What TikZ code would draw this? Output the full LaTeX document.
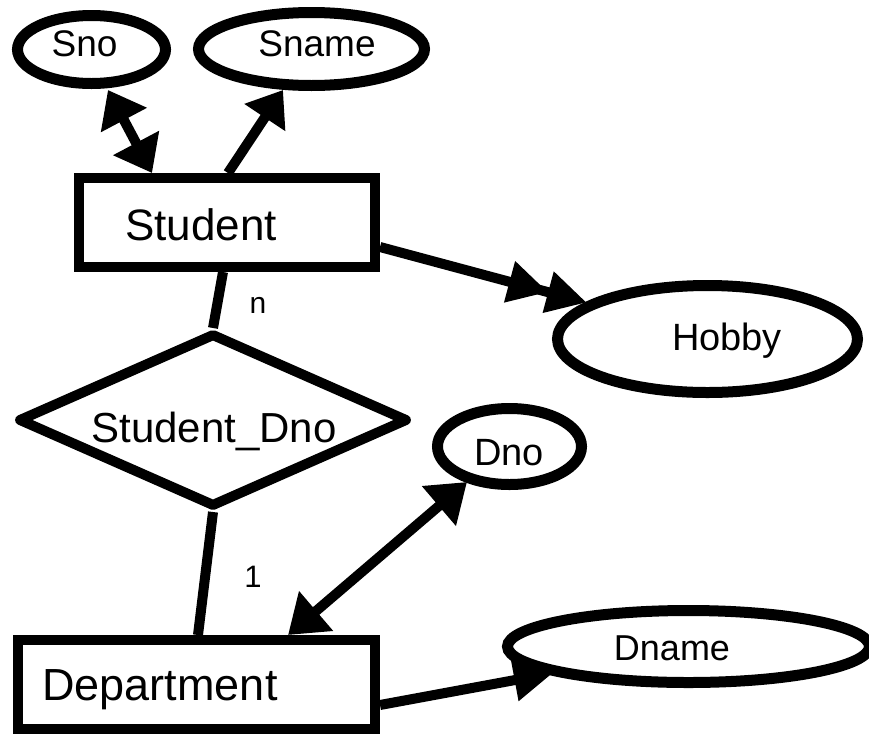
\documentclass[tikz,border=0pt]{standalone}
\usepackage{fontspec}
\setmainfont{Liberation Sans}
\usetikzlibrary{arrows.meta,shapes.geometric,calc}

\begin{document}
\begin{tikzpicture}[x=1pt,y=-1pt,
  thick line/.style={line width=10pt},
  entity/.style={draw,thick line,rectangle,inner sep=0pt,line join=miter},
  attr/.style={draw,line width=11pt,ellipse,inner sep=0pt},
  rel/.style={draw,thick line,diamond,inner sep=0pt,line join=round},
  txt/.style={inner sep=0pt,anchor=base},
  link/.style={thick line},
  both/.style 2 args={arrows={{Triangle[length=#1,width=#2]}-{Triangle[length=#1,width=#2]}}},
  tohead/.style 2 args={arrows={-{Triangle[length=#1,width=#2]}}},
  tohead2/.style 2 args={arrows={-{Triangle[length=#1,width=#2] Triangle[length=#1,width=#2,sep=-6pt]}}},
]
\useasboundingbox (0,0) rectangle (869,734);

% entities
\node[entity,minimum width=296pt,minimum height=89pt] (Student) at (227,222.5) {};
\node[entity,minimum width=357pt,minimum height=89pt] (Department) at (196.5,684.5) {};

% relationship
\node[rel,minimum width=390pt,minimum height=174pt] (Rel) at (213,420) {};

% attributes
\node[attr,minimum width=148pt,minimum height=68pt] (Sno) at (91.5,49.5) {};
\node[attr,minimum width=226pt,minimum height=73pt] (Sname) at (311.5,49) {};
\node[attr,minimum width=300pt,minimum height=107pt] (Hobby) at (707.5,339) {};
\node[attr,minimum width=144pt,minimum height=76pt] (Dno) at (509.5,446.5) {};
\node[attr,minimum width=362pt,minimum height=72pt] (Dname) at (688.5,646.5) {};

% texts
\node[txt,font=\fontsize{37}{37}\selectfont] (tSno) at (84.5,56) {Sno};
\node[txt,font=\fontsize{37}{37}\selectfont] (tSname) at (317,56) {Sname};
\node[txt,font=\fontsize{44}{44}\selectfont] (tStudent) at (201,240) {Student};
\node[txt,font=\fontsize{38}{38}\selectfont] (tHobby) at (727,350) {Hobby};
\node[txt,font=\fontsize{42}{42}\selectfont] (tRel) at (214,442) {Student\_Dno};
\node[txt,font=\fontsize{38}{38}\selectfont] (tDno) at (509,465) {Dno};
\node[txt,font=\fontsize{36}{36}\selectfont] (tDname) at (672,660) {Dname};
\node[txt,font=\fontsize{45}{45}\selectfont] (tDept) at (160,700) {Department};
\node[txt,font=\fontsize{30}{30}\selectfont] (tN) at (258,313) {n};
\node[txt,font=\fontsize{31}{31}\selectfont] (tOne) at (253,587) {1};

% connectors
\draw[link,both={34pt}{50pt}] ($(Sno.center)+(16.5,40.5)$) -- ($(Student.center)+(-75,-49.5)$);
\draw[link,tohead={33pt}{47pt}] ($(Student.center)+(1,-49.5)$) -- ($(Sname.center)+(-28.5,41)$);
\draw[link,tohead2={40pt}{40pt}] ($(Student.center)+(153,24.5)$) -- ($(Hobby.center)+(-126.5,-38)$);
\draw[link] ($(Student.center)+(-4,49.5)$) -- (Rel.north);
\draw[link] (Rel.south) -- ($(Department.center)+(1.5,-49.5)$);
\draw[link,both={37pt}{50pt}] ($(Dno.center)+(-42.5,35.5)$) -- ($(Department.center)+(91.5,-49.5)$);
\draw[link,tohead={39pt}{40pt}] ($(Department.center)+(183.5,20.5)$) -- ($(Dname.center)+(-135.5,26.5)$);
\end{tikzpicture}
\end{document}
